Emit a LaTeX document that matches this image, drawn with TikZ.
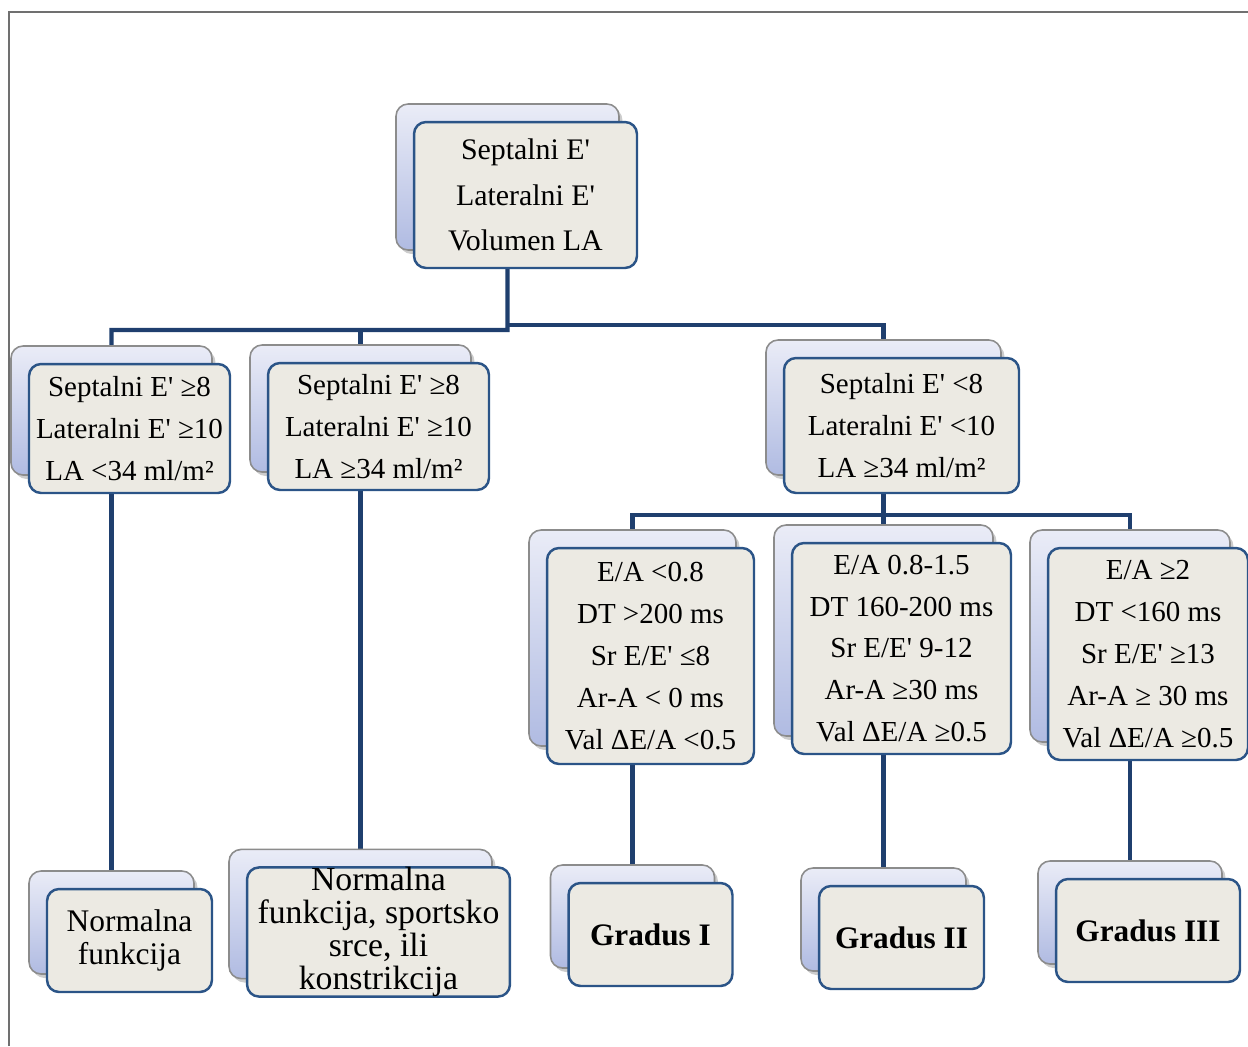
\documentclass[tikz,border=0pt]{standalone}
\usepackage{fontspec}
\setmainfont{Liberation Serif}
\usetikzlibrary{shadows,backgrounds}

\definecolor{frontfill}{RGB}{236,234,227}
\definecolor{frontline}{RGB}{43,84,135}
\definecolor{linkblue}{RGB}{31,63,110}
\definecolor{backline}{RGB}{140,140,140}
\definecolor{backtop}{RGB}{234,236,247}
\definecolor{backbot}{RGB}{176,187,226}
\definecolor{framegray}{RGB}{112,112,112}

\newcommand{\ap}{\textquotesingle}

\begin{document}
\begin{tikzpicture}[x=0.02cm, y=-0.02cm,
  frontbox/.style={draw=frontline, line width=1.4pt, fill=frontfill,
    rounded corners=0.24cm, inner sep=0pt, align=center,
    general shadow={shadow xshift=-0.29cm, shadow yshift=0.28cm, fill=black, opacity=0.2},
    general shadow={shadow xshift=-0.36cm, shadow yshift=0.36cm, draw=backline,
      line width=0.9pt, top color=backtop, bottom color=backbot}},
  toptext/.style={font=\fontsize{17}{26}\selectfont},
  crit/.style={font=\fontsize{16.5}{23.8}\selectfont},
  result/.style={font=\fontsize{17.9}{18.7}\selectfont},
  grade/.style={font=\fontsize{17.8}{20}\selectfont\bfseries},
  link/.style={draw=linkblue, line width=2.3pt},
  frame/.style={draw=framegray, line width=1.5pt}]
\useasboundingbox (0,0) rectangle (1248,1046);

% root
\node[frontbox, toptext, minimum width=4.46cm, minimum height=2.92cm] (top) at (525.5,195)
  {Septalni E\ap\\Lateralni E\ap\\Volumen LA};

% second level
\node[frontbox, crit, minimum width=4.02cm, minimum height=2.58cm] (a) at (129.5,428.5)
  {Septalni E\ap{} ≥8\\Lateralni E\ap{} ≥10\\LA <34 ml/m²};
\node[frontbox, crit, minimum width=4.42cm, minimum height=2.54cm] (b) at (378.5,426.5)
  {Septalni E\ap{} ≥8\\Lateralni E\ap{} ≥10\\LA ≥34 ml/m²};
\node[frontbox, crit, minimum width=4.70cm, minimum height=2.70cm] (c) at (901.5,425.5)
  {Septalni E\ap{} <8\\Lateralni E\ap{} <10\\LA ≥34 ml/m²};

% third level
\node[frontbox, crit, minimum width=4.14cm, minimum height=4.32cm] (d) at (650.5,656)
  {E/A <0.8\\DT >200 ms\\Sr E/E\ap{} ≤8\\Ar-A < 0 ms\\Val ΔE/A <0.5};
\node[frontbox, crit, minimum width=4.38cm, minimum height=4.22cm] (e) at (901.5,648.5)
  {E/A 0.8-1.5\\DT 160-200 ms\\Sr E/E\ap{} 9-12\\Ar-A ≥30 ms\\Val ΔE/A ≥0.5};
\node[frontbox, crit, minimum width=4.00cm, minimum height=4.24cm] (f) at (1148,654)
  {E/A ≥2\\DT <160 ms\\Sr E/E\ap{} ≥13\\Ar-A ≥ 30 ms\\Val ΔE/A ≥0.5};

% outcomes
\node[frontbox, result, minimum width=3.30cm, minimum height=2.06cm] (g) at (129.5,940.5)
  {Normalna\\funkcija};
\node[frontbox, minimum width=5.26cm, minimum height=2.44cm,
  font=\fontsize{19.2}{18.7}\selectfont] (h) at (378.5,932)
  {Normalna\\funkcija, sportsko\\srce, ili\\konstrikcija};
\node[frontbox, grade, minimum width=3.28cm, minimum height=2.06cm] (i) at (650.5,934.5)
  {Gradus I};
\node[frontbox, grade, minimum width=3.30cm, minimum height=2.06cm] (j) at (901.5,937.5)
  {Gradus II};
\node[frontbox, grade, minimum width=3.68cm, minimum height=2.06cm] (k) at (1148,930.5)
  {Gradus III};

% connectors
\begin{scope}[on background layer]
\draw[frame] (9,1046) -- (9,12) -- (1248,12);
\coordinate (lbar) at (507.5,330);
\coordinate (rbar) at (507.5,325);
\coordinate (cbar) at (883.5,515);
\draw[link] ([xshift=-0.36cm]top.south) -- (lbar) -| ([xshift=-0.36cm]a.north);
\draw[link] (lbar) -| ([xshift=-0.36cm]b.north);
\draw[link] (rbar) -| ([xshift=-0.36cm]c.north);
\draw[link] ([xshift=-0.36cm]c.south) -- ([xshift=-0.36cm]e.north);
\draw[link] ([xshift=-0.36cm]d.north) |- (cbar) -| ([xshift=-0.36cm]f.north);
\draw[link] ([xshift=-0.36cm]a.south) -- ([xshift=-0.36cm]g.north);
\draw[link] ([xshift=-0.36cm]b.south) -- ([xshift=-0.36cm]h.north);
\draw[link] ([xshift=-0.36cm]d.south) -- ([xshift=-0.36cm]i.north);
\draw[link] ([xshift=-0.36cm]e.south) -- ([xshift=-0.36cm]j.north);
\draw[link] ([xshift=-0.36cm]f.south) -- ([xshift=-0.36cm]k.north);
\end{scope}

\end{tikzpicture}
\end{document}
